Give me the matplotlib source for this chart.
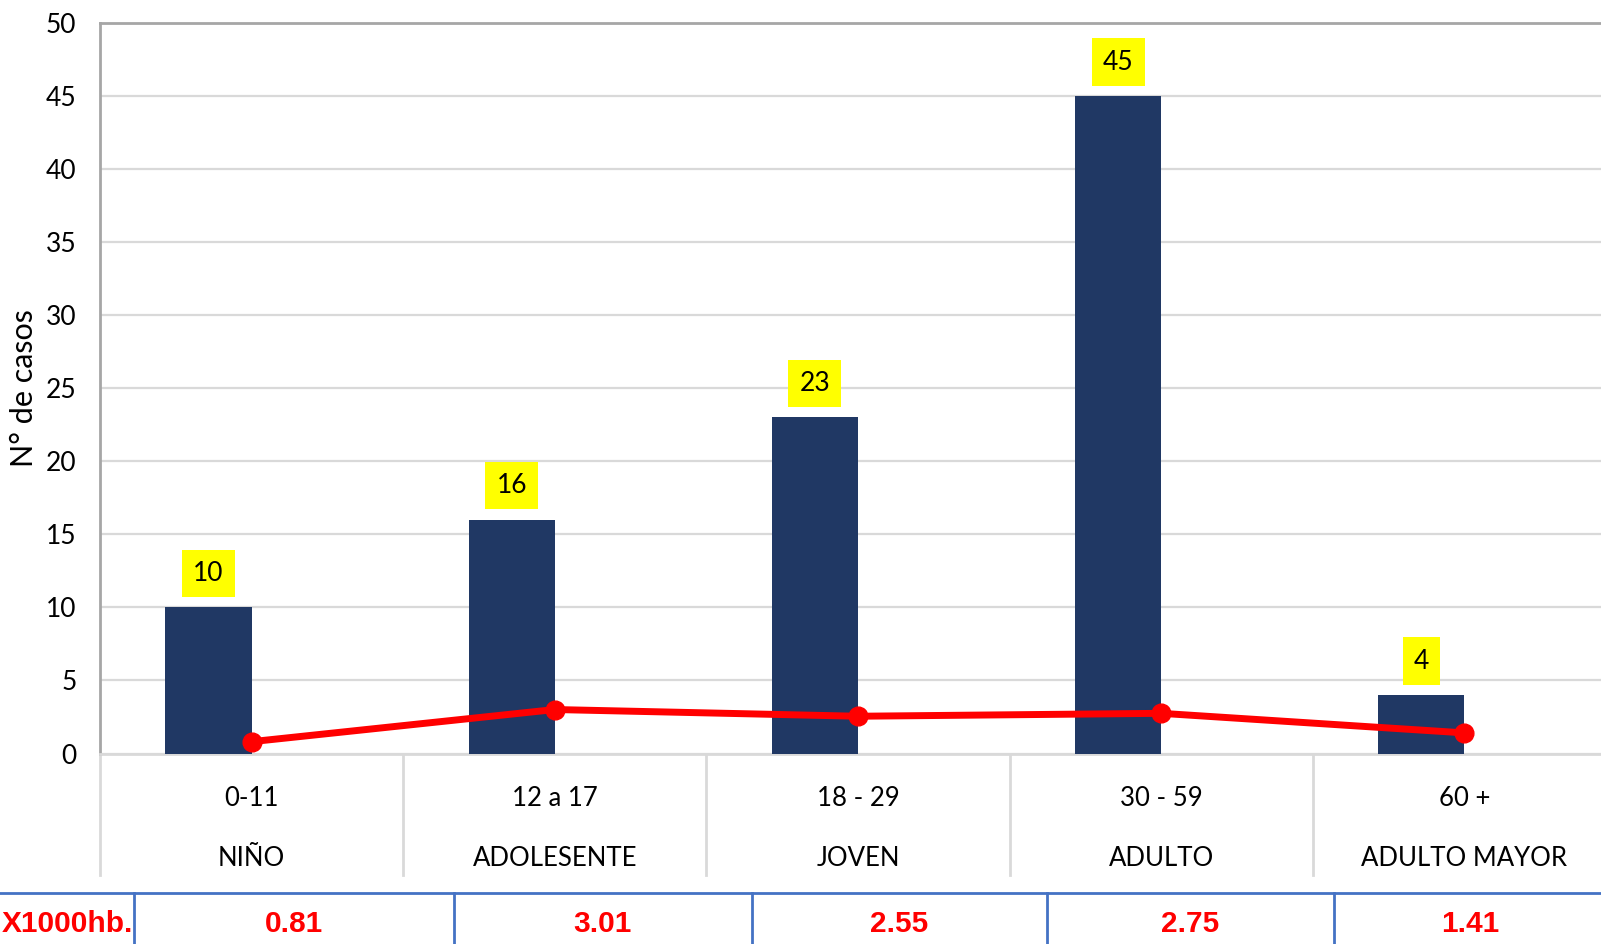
import matplotlib.pyplot as plt
import matplotlib.transforms as mtrans
import numpy as np

rangos = ['0-11', '12 a 17', '18 - 29', '30 - 59', '60 +']
grupos = ['NIÑO', 'ADOLESENTE', 'JOVEN', 'ADULTO', 'ADULTO MAYOR']
casos = [10, 16, 23, 45, 4]
tasa = [0.81, 3.01, 2.55, 2.75, 1.41]
tasa_txt = ['0.81', '3.01', '2.55', '2.75', '1.41']

W, H = 1601, 944
fig = plt.figure(figsize=(W / 100, H / 100), dpi=100)
plt.rcParams['font.family'] = ['Lato', 'DejaVu Sans']

left, top, bottom = 100, 23, 753.5
cat_w = 303.2
ax = fig.add_axes([left / W, 1 - bottom / H, 5 * cat_w / W, (bottom - top) / H])

x = np.arange(len(rangos))
bw = 0.284
ax.bar(x - bw / 2, casos, width=bw, color='#203864', zorder=3)
ax.plot(x, tasa, color='#FF0000', lw=5.0, marker='o', ms=13.5, zorder=4, clip_on=False)

for xi, v in zip(x, casos):
    ax.annotate(str(v), (xi - bw / 2, v), xytext=(0, 24.5), textcoords='offset points',
                ha='center', va='center', fontsize=19, color='black',
                bbox=dict(boxstyle='square,pad=0.42', fc='#FFFF00', ec='none'))

ax.set_xlim(-0.5, 4.5)
ax.set_ylim(0, 50)
ax.set_yticks(range(0, 51, 5))
ax.tick_params(axis='y', length=0, pad=17, labelsize=19)
ax.set_xticks([])
ax.yaxis.grid(True, color='#D9D9D9', lw=1.6, zorder=0)
ax.set_axisbelow(True)
ax.spines['right'].set_visible(False)
ax.spines['left'].set_color('#A6A6A6')
ax.spines['left'].set_linewidth(2)
ax.spines['top'].set_color('#A6A6A6')
ax.spines['top'].set_linewidth(2)
ax.spines['bottom'].set_color('#D9D9D9')
ax.spines['bottom'].set_linewidth(2)

ax.set_ylabel('N° de casos', fontsize=22)
ax.yaxis.set_label_coords(-(left - 38) / (5 * cat_w), 0.50)

# category labels and separators below the axis
tr = mtrans.blended_transform_factory(ax.transData, fig.transFigure)
for xi, r, g in zip(x, rangos, grupos):
    ax.text(xi, 1 - 799 / H, r, transform=tr, ha='center', va='center', fontsize=18.5)
    ax.text(xi, 1 - 859 / H, g, transform=tr, ha='center', va='center', fontsize=18.5)
for b in np.arange(-0.5, 4.6, 1):
    ax.plot([b, b], [1 - bottom / H, 1 - 875 / H], transform=tr, color='#D9D9D9',
            lw=2, clip_on=False)

# rate table at the bottom
ty = 1 - 893 / H
fig.add_artist(plt.Line2D([0, 1], [ty, ty], color='#4472C4', lw=2,
                          transform=fig.transFigure, zorder=5))
edges = [133.5, 454, 751.5, 1046.5, 1333.5, 1606]
for e in edges[:-1]:
    fig.add_artist(plt.Line2D([e / W, e / W], [-0.02, ty], color='#4472C4', lw=2,
                              transform=fig.transFigure, zorder=5, clip_on=False))
tfont = ['Liberation Sans', 'DejaVu Sans']
fig.text(2 / W, 1 - 924 / H, 'X1000hb.', ha='left', va='center', fontsize=21.5,
         fontweight='bold', color='#FF0000', family=tfont)
for i, t in enumerate(tasa_txt):
    cx = (edges[i] + edges[i + 1]) / 2
    fig.text(cx / W, 1 - 924 / H, t, ha='center', va='center', fontsize=21.5,
             fontweight='bold', color='#FF0000', family=tfont)

fig.savefig('out.png', dpi=100)
